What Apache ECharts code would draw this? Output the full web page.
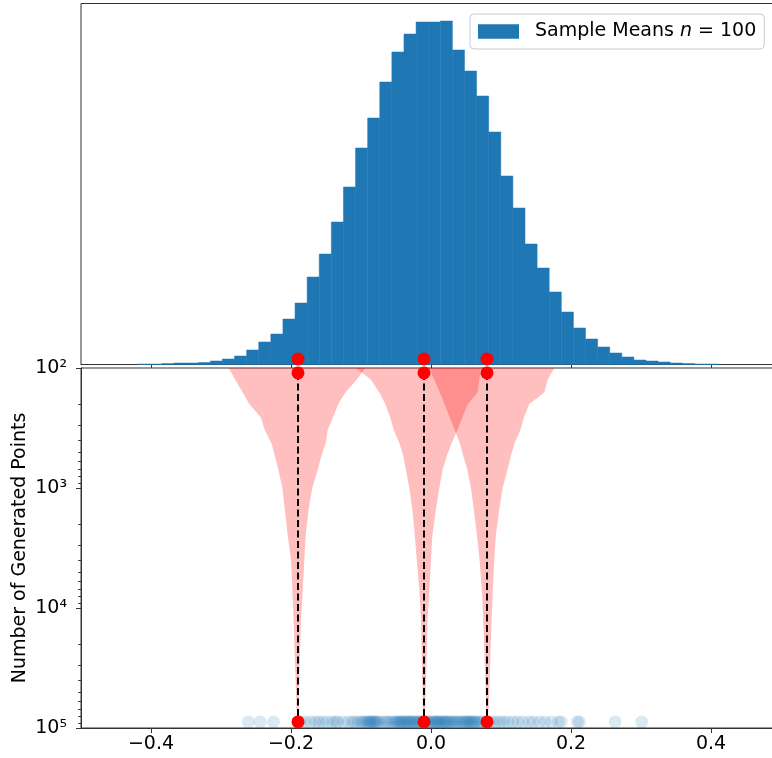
<!DOCTYPE html>
<html>
<head>
<meta charset="utf-8">
<script src="https://cdn.jsdelivr.net/npm/echarts@6/dist/echarts.min.js"></script>
<style>
html,body{margin:0;padding:0;background:#fff;}
#chart{width:772px;height:758px;}
</style>
</head>
<body>
<div id="chart"></div>
<script>
// ---------- data ----------
// histogram of sample means (top panel)
const histStart = -0.4190;      // left edge of first bin
const binWidth = 0.01729;       // bin width
const histCounts = [5, 5, 10, 15, 15, 20, 35, 55, 85, 145, 225, 305, 455, 615, 875, 1105, 1425, 1775, 2165, 2465,
  2825, 3125, 3305, 3425, 3425, 3435, 3145, 2935, 2685, 2325, 1885, 1565, 1205, 965, 725, 525, 365, 255, 175, 115,
  75, 45, 35, 25, 15, 10, 5, 5];
const histMax = 3610;

// convergence points
const targets = [-0.19, -0.01, 0.08];
const dotTopHist = 55;         // red dot level in top panel
const dotTopN = 110;           // red dot level (n) at top of lower panel
const dotBottomN = 89000;      // level of the bottom row of dots

// funnel bands: n levels and left/right bounds for each funnel
const nLevels = [100, 125, 160, 200, 260, 330, 420, 540, 700, 1000, 1500, 2500, 4000, 7000, 12500, 22500, 40000, 67000, 100000];
const funnel1Low  = [-0.2891, -0.2796, -0.2691, -0.2596, -0.2429, -0.2374, -0.2281, -0.2231, -0.2181, -0.2124, -0.2089, -0.2046, -0.2000, -0.1981, -0.1963, -0.1949, -0.1934, -0.1921, -0.19];
const funnel1High = [-0.0939, -0.1061, -0.1224, -0.1324, -0.1403, -0.1477, -0.1503, -0.1567, -0.1617, -0.1696, -0.1749, -0.1791, -0.1810, -0.1831, -0.1857, -0.1870, -0.1881, -0.1889, -0.19];
const funnel2Low  = [-0.1067, -0.0857, -0.0739, -0.0653, -0.0581, -0.0531, -0.0453, -0.0396, -0.0360, -0.0310, -0.0267, -0.0231, -0.0203, -0.0167, -0.0143, -0.0134, -0.0126, -0.0117, -0.01];
const funnel2High = [0.0714, 0.0690, 0.0666, 0.0526, 0.0447, 0.0376, 0.0297, 0.0226, 0.0166, 0.0119, 0.0071, 0.0019, 0.0000, -0.0024, -0.0049, -0.0060, -0.0071, -0.0081, -0.01];
const funnel3Low  = [-0.0024, 0.0047, 0.0126, 0.0194, 0.0269, 0.0340, 0.0411, 0.0461, 0.0519, 0.0571, 0.0611, 0.0657, 0.0694, 0.0726, 0.0747, 0.0761, 0.0776, 0.0787, 0.08];
const funnel3High = [0.1761, 0.1666, 0.1619, 0.1404, 0.1326, 0.1276, 0.1197, 0.1140, 0.1094, 0.1023, 0.0976, 0.0926, 0.0904, 0.0883, 0.0866, 0.0851, 0.0840, 0.0823, 0.08];

// sample means shown as translucent dots at the bottom
const sampleMeans = [-0.261, -0.244, -0.225,
  -0.187, -0.180, -0.172, -0.165, -0.160, -0.154, -0.148, -0.141, -0.136, -0.133, -0.125, -0.118, -0.112, -0.109,
  -0.104, -0.100, -0.098, -0.095, -0.092, -0.090, -0.088, -0.087, -0.085, -0.083, -0.081, -0.080, -0.078, -0.076,
  -0.073, -0.068, -0.064, -0.062, -0.058, -0.055,
  -0.052, -0.049, -0.048, -0.046, -0.044, -0.043, -0.041, -0.039, -0.037, -0.035, -0.033, -0.031, -0.030, -0.028,
  -0.026, -0.024, -0.022, -0.020, -0.018,
  -0.016, -0.014, -0.012, -0.009, -0.006, -0.004, -0.002, 0.001, 0.003, 0.005, 0.007, 0.008, 0.009, 0.011, 0.013,
  0.015, 0.017, 0.019, 0.021, 0.022, 0.024, 0.026,
  0.028, 0.031, 0.033, 0.035, 0.037, 0.040, 0.042, 0.045, 0.047, 0.049, 0.051, 0.053, 0.054, 0.056, 0.058, 0.060,
  0.062, 0.063, 0.066, 0.069, 0.071, 0.075, 0.083, 0.088,
  0.093, 0.099, 0.104, 0.110, 0.117, 0.124, 0.131, 0.140, 0.146, 0.155, 0.163, 0.172, 0.182, 0.186,
  0.209, 0.212, 0.263, 0.301];

const xTicks = [-0.4, -0.2, 0, 0.2, 0.4];
const yMajorTicks = [100, 1000, 10000, 100000];
const yMinorTicks = [200, 300, 400, 500, 600, 700, 800, 900, 2000, 3000, 4000, 5000, 6000, 7000, 8000, 9000,
  20000, 30000, 40000, 50000, 60000, 70000, 80000, 90000];
const supers = {2: '10\u00B2', 3: '10\u00B3', 4: '10\u2074', 5: '10\u2075'};

// ---------- chart ----------
const FONT = 'DejaVu Sans';
const SPINE = '#333';
const funnels = [[funnel1Low, funnel1High], [funnel2Low, funnel2High], [funnel3Low, funnel3High]];

const chart = echarts.init(document.getElementById('chart'), null, {renderer: 'canvas'});

const series = [];
// histogram
series.push({
  type: 'custom', name: 'Sample Means', xAxisIndex: 0, yAxisIndex: 0, color: '#1f77b4', z: 2,
  data: histCounts.map((c, i) => [histStart + i * binWidth, histStart + (i + 1) * binWidth, c]),
  encode: {x: [0, 1], y: 2},
  renderItem: function (params, api) {
    const p0 = api.coord([api.value(0), api.value(2)]);
    const p1 = api.coord([api.value(1), 0]);
    return {type: 'rect', shape: {x: p0[0], y: p0[1], width: p1[0] - p0[0], height: p1[1] - p0[1]},
      style: {fill: '#1f77b4', stroke: '#1f77b4', lineWidth: 0.5}};
  }
});
// top red dots
series.push({
  type: 'scatter', xAxisIndex: 0, yAxisIndex: 0, clip: false, z: 6, symbolSize: 13,
  itemStyle: {color: '#ff0000', opacity: 1},
  data: targets.map(x => [x, dotTopHist])
});
// funnels
series.push({
  type: 'custom', xAxisIndex: 1, yAxisIndex: 1, z: 1,
  data: targets.map(x => [x, 1000]),
  renderItem: function (params, api) {
    const f = funnels[params.dataIndex];
    const pts = [];
    for (let i = 0; i < nLevels.length; i++) pts.push(api.coord([f[0][i], nLevels[i]]));
    for (let i = nLevels.length - 1; i >= 0; i--) pts.push(api.coord([f[1][i], nLevels[i]]));
    return {type: 'polygon', shape: {points: pts}, style: {fill: 'rgba(255,0,0,0.25)'}};
  }
});
// minor ticks of the log axis
series.push({
  type: 'custom', xAxisIndex: 1, yAxisIndex: 1, z: 7, clip: false,
  data: yMinorTicks.map(v => [-0.5, v]),
  renderItem: function (params, api) {
    const p = api.coord([api.value(0), api.value(1)]);
    const y = Math.round(p[1]) + 0.5;
    return {type: 'line', shape: {x1: p[0] - 2.8, y1: y, x2: p[0], y2: y},
      style: {stroke: SPINE, lineWidth: 1}};
  }
});
// blue sample dots
series.push({
  type: 'scatter', xAxisIndex: 1, yAxisIndex: 1, clip: false, z: 3, symbolSize: 13,
  itemStyle: {color: 'rgba(31,119,180,0.2)'},
  data: sampleMeans.map(x => [x, dotBottomN])
});
// dashed verticals
targets.forEach(x => {
  series.push({
    type: 'line', xAxisIndex: 1, yAxisIndex: 1, z: 4, symbol: 'none',
    lineStyle: {color: '#000', width: 2, type: [7, 3.5]},
    data: [[x, dotTopN], [x, dotBottomN]]
  });
});
// red dots lower panel
series.push({
  type: 'scatter', xAxisIndex: 1, yAxisIndex: 1, clip: false, z: 6, symbolSize: 13,
  itemStyle: {color: '#ff0000', opacity: 1},
  data: targets.map(x => [x, dotTopN]).concat(targets.map(x => [x, dotBottomN]))
});

const option = {
  animation: false,
  backgroundColor: '#fff',
  grid: [
    {left: 81, top: 3.5, width: 700, height: 361, show: true, borderColor: SPINE, borderWidth: 1,
      containLabel: false, outerBoundsMode: 'none'},
    {left: 81, top: 368, width: 700, height: 360, show: true, borderColor: SPINE, borderWidth: 1,
      containLabel: false, outerBoundsMode: 'none'}
  ],
  legend: {
    left: 470, top: 14, padding: [8, 8, 8, 8],
    itemWidth: 41, itemHeight: 14.5,
    backgroundColor: 'rgba(255,255,255,0.8)', borderColor: '#cccccc', borderWidth: 1, borderRadius: 4,
    data: [{name: 'Sample Means', icon: 'rect', itemStyle: {color: '#1f77b4'}}],
    formatter: () => 'Sample Means {i|n} = 100',
    textStyle: {fontFamily: FONT, fontSize: 19, color: '#000', padding: [0, 0, 0, 11],
      rich: {i: {fontFamily: FONT, fontSize: 19, fontStyle: 'italic', color: '#000'}}}
  },
  xAxis: [
    {type: 'value', gridIndex: 0, min: -0.5, max: 0.5,
      axisLine: {show: true, onZero: false, lineStyle: {color: SPINE}},
      axisTick: {show: true, length: 3.5, customValues: xTicks, lineStyle: {color: SPINE}},
      axisLabel: {show: false}, splitLine: {show: false}},
    {type: 'value', gridIndex: 1, min: -0.5, max: 0.5,
      axisLine: {show: true, onZero: false, lineStyle: {color: SPINE}},
      axisTick: {show: true, length: 5, customValues: xTicks, lineStyle: {color: SPINE}},
      axisLabel: {show: true, customValues: xTicks, margin: 7, fontFamily: FONT, fontSize: 19, color: '#000',
        formatter: v => (v < -1e-9 ? '\u2212' : '') + Math.abs(v).toFixed(1)},
      splitLine: {show: false}}
  ],
  yAxis: [
    {type: 'value', gridIndex: 0, min: 0, max: histMax, show: false},
    {type: 'log', logBase: 10, gridIndex: 1, min: 100, max: 100000, inverse: true, position: 'left',
      axisLine: {show: true, onZero: false, lineStyle: {color: SPINE}},
      axisTick: {show: true, length: 5, customValues: yMajorTicks, lineStyle: {color: SPINE}},
      axisLabel: {show: true, customValues: yMajorTicks, margin: 14, fontFamily: FONT, fontSize: 19, color: '#000',
        formatter: v => supers[Math.round(Math.log10(v))]},
      splitLine: {show: false},
      name: 'Number of Generated Points', nameLocation: 'middle', nameGap: 51, nameMoveOverlap: false,
      nameTextStyle: {fontFamily: FONT, fontSize: 19, color: '#000'}}
  ],
  series: series
};
chart.setOption(option);
</script>
</body>
</html>
